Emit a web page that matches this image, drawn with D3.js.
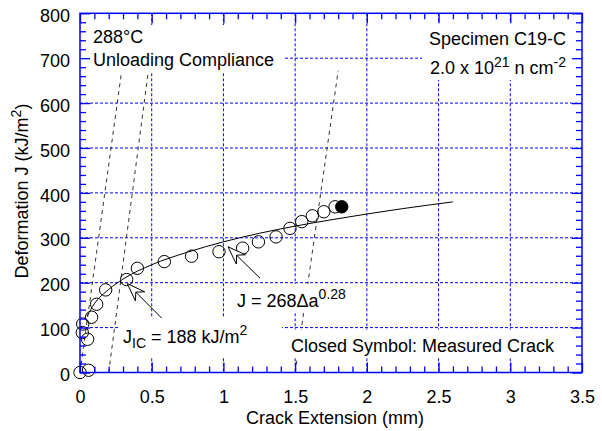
<!DOCTYPE html>
<html>
<head>
<meta charset="utf-8">
<script src="https://cdn.jsdelivr.net/npm/d3@7"></script>
<style>
  html, body { margin: 0; padding: 0; background: #fff; }
  svg { display: block; }
  text { font-family: "Liberation Sans", Arial, sans-serif; fill: #000; }
</style>
</head>
<body>
<svg id="chart" width="602" height="431"></svg>
<script>
// ---------- data ----------
const crackExt   = [0.0, 0.06, 0.016, 0.019, 0.053, 0.081, 0.116, 0.179, 0.325, 0.40, 0.588, 0.778, 0.969, 1.134, 1.244, 1.367, 1.464, 1.546, 1.62, 1.70, 1.778];
const jValues    = [0,   5,    89,    108,   74,    123,   152,   184,   207,   232,  247,   259,   269,   277,   291,   302,   321,   336,   349,  358,  369];
const closedExt  = [1.825];
const closedJ    = [369];

// power-law fit curve
const fitExt = [0.05, 0.1, 0.2, 0.3, 0.5, 0.75, 1.0, 1.25, 1.5, 1.75, 2.0, 2.25, 2.6];
const fitJ   = [126, 153, 185, 208, 240, 268, 291, 310, 326, 340, 353, 365, 380];

// construction (blunting / exclusion) lines
const constLineStartExt = [0.0, 0.2, 1.5];
const constLineEndExt   = [0.29, 0.476, 1.80];
const constLineStartJ   = [0, 0, 0];
const constLineEndJ     = [670, 670, 672];

// arrows (tip -> tail) in data units
const arrowTipExt  = [0.33, 1.032];
const arrowTipJ    = [198, 280];
const arrowTailExt = [0.57, 1.255];
const arrowTailJ   = [121, 210];

const xTicks = [0, 0.5, 1, 1.5, 2, 2.5, 3, 3.5];
const yTicks = [0, 100, 200, 300, 400, 500, 600, 700, 800];
const xTickLabels = ["0", "0.5", "1", "1.5", "2", "2.5", "3", "3.5"];
const yTickLabels = ["0", "100", "200", "300", "400", "500", "600", "700", "800"];

// ---------- setup ----------
const svg = d3.select("#chart");
const L = 80, R = 582, T = 13.3, B = 372.5;
const x = d3.scaleLinear().domain([0, 3.5]).range([L, R]);
const y = d3.scaleLinear().domain([0, 800]).range([B, T]);
const BLUE = "#0000ff";
const FONT = 18;

// grid
const grid = svg.append("g");
grid.selectAll("line.gx").data(xTicks.slice(1, -1)).enter().append("line")
  .attr("x1", d => x(d)).attr("x2", d => x(d)).attr("y1", T).attr("y2", B)
  .attr("stroke", BLUE).attr("stroke-width", 1).attr("stroke-dasharray", "3,2");
grid.selectAll("line.gy").data(yTicks.slice(1, -1)).enter().append("line")
  .attr("y1", d => y(d)).attr("y2", d => y(d)).attr("x1", L).attr("x2", R)
  .attr("stroke", BLUE).attr("stroke-width", 1).attr("stroke-dasharray", "3,2");

// construction lines
svg.append("g").selectAll("line").data(constLineStartExt).enter().append("line")
  .attr("x1", (d, i) => x(d)).attr("y1", (d, i) => y(constLineStartJ[i]))
  .attr("x2", (d, i) => x(constLineEndExt[i])).attr("y2", (d, i) => y(constLineEndJ[i]))
  .attr("stroke", "#000").attr("stroke-width", 0.8).attr("stroke-dasharray", "4,4");

// fit curve
const fitPts = fitExt.map((d, i) => [d, fitJ[i]]);
svg.append("path").datum(fitPts)
  .attr("d", d3.line().x(d => x(d[0])).y(d => y(d[1])).curve(d3.curveMonotoneX))
  .attr("fill", "none").attr("stroke", "#000").attr("stroke-width", 1);

// data points
svg.append("g").selectAll("circle").data(crackExt).enter().append("circle")
  .attr("cx", d => x(d)).attr("cy", (d, i) => y(jValues[i])).attr("r", 6.2)
  .attr("fill", "none").attr("stroke", "#000").attr("stroke-width", 1);
svg.append("g").selectAll("circle").data(closedExt).enter().append("circle")
  .attr("cx", d => x(d)).attr("cy", (d, i) => y(closedJ[i])).attr("r", 6.2)
  .attr("fill", "#000").attr("stroke", "#000").attr("stroke-width", 1);

// label boxes
const boxes = [
  [81, 25, 283, 72],
  [422, 23, 581, 80],
  [288, 329.5, 566, 358],
  [233, 284, 352, 313],
  [118, 317, 282, 357]
];
svg.append("g").selectAll("rect").data(boxes).enter().append("rect")
  .attr("x", d => d[0]).attr("y", d => d[1]).attr("width", d => d[2] - d[0]).attr("height", d => d[3] - d[1])
  .attr("fill", "#fff");

// arrows
const ag = svg.append("g");
arrowTipExt.forEach((d, i) => {
  const tx = x(d), ty = y(arrowTipJ[i]);
  const ex = x(arrowTailExt[i]), ey = y(arrowTailJ[i]);
  const len = Math.hypot(ex - tx, ey - ty);
  const ux = (ex - tx) / len, uy = (ey - ty) / len;
  const px = -uy, py = ux;
  const HL = 18, HW = 6.5, NL = 12;
  const b1 = [tx + ux * HL + px * HW, ty + uy * HL + py * HW];
  const b2 = [tx + ux * HL - px * HW, ty + uy * HL - py * HW];
  const n  = [tx + ux * NL, ty + uy * NL];
  ag.append("line").attr("x1", n[0]).attr("y1", n[1]).attr("x2", ex).attr("y2", ey)
    .attr("stroke", "#000").attr("stroke-width", 1);
  ag.append("path").attr("d", `M${tx},${ty}L${b1[0]},${b1[1]}L${n[0]},${n[1]}L${b2[0]},${b2[1]}Z`)
    .attr("fill", "#fff").attr("stroke", "#000").attr("stroke-width", 1);
});

// annotations
const ann = svg.append("g").attr("font-size", FONT);
ann.append("text").attr("x", 93).attr("y", 43).text("288°C");
ann.append("text").attr("x", 93).attr("y", 66).text("Unloading Compliance");
ann.append("text").attr("x", 566).attr("y", 45).attr("text-anchor", "end").text("Specimen C19-C");
const t2 = ann.append("text").attr("x", 566).attr("y", 74).attr("text-anchor", "end");
t2.append("tspan").text("2.0 x 10");
t2.append("tspan").attr("font-size", 14).attr("dy", -7).text("21");
t2.append("tspan").attr("dy", 7).text(" n cm");
t2.append("tspan").attr("font-size", 14).attr("dy", -7).text("-2");
ann.append("text").attr("x", 291).attr("y", 352).text("Closed Symbol: Measured Crack");
const t3 = ann.append("text").attr("x", 237).attr("y", 307);
t3.append("tspan").text("J = 268Δa");
t3.append("tspan").attr("font-size", 14).attr("dy", -8).text("0.28");
const t4 = ann.append("text").attr("x", 123).attr("y", 343);
t4.append("tspan").text("J");
t4.append("tspan").attr("font-size", 14).attr("dy", 5).text("IC");
t4.append("tspan").attr("dy", -5).text(" = 188 kJ/m");
t4.append("tspan").attr("font-size", 14).attr("dy", -8).text("2");

// frame
svg.append("rect").attr("x", L).attr("y", T).attr("width", R - L).attr("height", B - T)
  .attr("fill", "none").attr("stroke", BLUE).attr("stroke-width", 1.5);

// axes
function styleAxis(g) {
  g.select(".domain").remove();
  g.selectAll(".tick line").attr("stroke", BLUE).attr("stroke-width", 1.3);
  g.selectAll(".tick text").attr("font-size", FONT).attr("font-family", '"Liberation Sans", Arial, sans-serif').attr("fill", "#000");
}
const xMinor = d3.range(0, 36).map(i => i / 10).filter(v => Math.abs(v * 2 - Math.round(v * 2)) > 1e-6);
const yMinor = d3.range(0, 41).map(i => i * 20).filter(v => v % 100 !== 0);

svg.append("g").attr("transform", `translate(0,${B})`)
  .call(d3.axisBottom(x).tickValues(xTicks).tickFormat((d, i) => xTickLabels[i]).tickSizeInner(-10).tickSizeOuter(0).tickPadding(17.5))
  .call(styleAxis);
svg.append("g").attr("transform", `translate(0,${B})`)
  .call(d3.axisBottom(x).tickValues(xMinor).tickFormat("").tickSizeInner(-6).tickSizeOuter(0))
  .call(styleAxis);
svg.append("g").attr("transform", `translate(0,${T})`)
  .call(d3.axisTop(x).tickValues(xTicks).tickFormat("").tickSizeInner(-10).tickSizeOuter(0))
  .call(styleAxis);
svg.append("g").attr("transform", `translate(0,${T})`)
  .call(d3.axisTop(x).tickValues(xMinor).tickFormat("").tickSizeInner(-6).tickSizeOuter(0))
  .call(styleAxis);
const yl = svg.append("g").attr("transform", `translate(${L},0)`)
  .call(d3.axisLeft(y).tickValues(yTicks).tickFormat((d, i) => yTickLabels[i]).tickSizeInner(-10).tickSizeOuter(0).tickPadding(10))
  .call(styleAxis);
yl.selectAll(".tick text").attr("dy", "0.45em");
svg.append("g").attr("transform", `translate(${L},0)`)
  .call(d3.axisLeft(y).tickValues(yMinor).tickFormat("").tickSizeInner(-6).tickSizeOuter(0))
  .call(styleAxis);
svg.append("g").attr("transform", `translate(${R},0)`)
  .call(d3.axisRight(y).tickValues(yTicks).tickFormat("").tickSizeInner(-10).tickSizeOuter(0))
  .call(styleAxis);
svg.append("g").attr("transform", `translate(${R},0)`)
  .call(d3.axisRight(y).tickValues(yMinor).tickFormat("").tickSizeInner(-6).tickSizeOuter(0))
  .call(styleAxis);

// axis titles
svg.append("text").attr("x", (L + R) / 2 + 4).attr("y", 424).attr("text-anchor", "middle")
  .attr("font-size", FONT).text("Crack Extension (mm)");
const yt = svg.append("text").attr("transform", "rotate(-90)").attr("x", -191).attr("y", 28)
  .attr("text-anchor", "middle").attr("font-size", FONT);
yt.append("tspan").text("Deformation J (kJ/m");
yt.append("tspan").attr("font-size", 14).attr("dy", -7).text("2");
yt.append("tspan").attr("dy", 7).text(")");
</script>
</body>
</html>
